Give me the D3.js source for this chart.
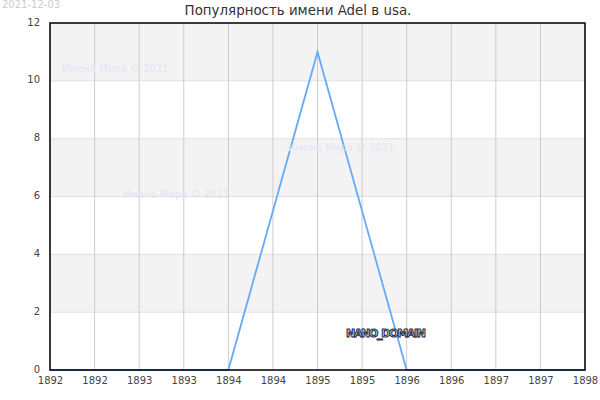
<!DOCTYPE html>
<html>
<head>
<meta charset="utf-8">
<script src="https://cdn.jsdelivr.net/npm/d3@7"></script>
<style>
  body { margin: 0; background: #fff; }
  text { font-family: "DejaVu Sans", sans-serif; }
</style>
</head>
<body>
<div id="chart"></div>
<script>
// Data
//-------------------------------------------------------
var years = [1892, 1893, 1894, 1895, 1896, 1897, 1898];
var counts = [0, 0, 0, 11, 0, 0, 0];
var yTicks = [0, 2, 4, 6, 8, 10, 12];
var xTicks = [1892, 1892.5, 1893, 1893.5, 1894, 1894.5, 1895, 1895.5, 1896, 1896.5, 1897, 1897.5, 1898];
var watermarks = [[62, 72], [288, 151], [123, 198]];

// SVG setup
//-------------------------------------------------------
var svgWidth = 600;
var svgHeight = 400;
var margin = { top: 23, right: 15, bottom: 30, left: 50 };
var chartWidth = svgWidth - margin.left - margin.right;
var chartHeight = svgHeight - margin.top - margin.bottom;

var svg = d3.select("#chart")
    .append("svg")
    .attr("width", svgWidth)
    .attr("height", svgHeight);

var chartGroup = svg.append("g")
    .attr("transform", `translate(${margin.left}, ${margin.top})`);

var x = d3.scaleLinear().domain([1892, 1898]).range([0, chartWidth]);
var y = d3.scaleLinear().domain([0, 12]).range([chartHeight, 0]);

// Alternating bands
for (var i = 0; i < yTicks.length - 1; i++) {
    if (i % 2 === 1) {
        chartGroup.append("rect")
            .attr("x", 0)
            .attr("y", y(yTicks[i + 1]))
            .attr("width", chartWidth)
            .attr("height", y(yTicks[i]) - y(yTicks[i + 1]))
            .attr("fill", "#f3f3f3");
    }
}

// Grid lines
chartGroup.selectAll(".hgrid").data(yTicks).enter()
    .append("line")
    .attr("x1", 0).attr("x2", chartWidth)
    .attr("y1", d => y(d)).attr("y2", d => y(d))
    .attr("stroke", "#e0e0e0");

chartGroup.selectAll(".vgrid").data(xTicks).enter()
    .append("line")
    .attr("x1", d => x(d)).attr("x2", d => x(d))
    .attr("y1", 0).attr("y2", chartHeight)
    .attr("stroke", "#cccccc");

// Watermarks
svg.selectAll(".wm").data(watermarks).enter()
    .append("text")
    .attr("x", d => d[0]).attr("y", d => d[1])
    .attr("font-size", 10)
    .attr("fill", "#e4e4f4")
    .text("Имена Мира © 2021");

// Line
var line = d3.line()
    .x((d, i) => x(years[i]))
    .y(d => y(d));

chartGroup.append("path")
    .datum(counts)
    .attr("d", line)
    .attr("fill", "none")
    .attr("stroke", "#66aaf8")
    .attr("stroke-width", 1.8);

// Frame
chartGroup.append("rect")
    .attr("x", 0).attr("y", 0)
    .attr("width", chartWidth).attr("height", chartHeight)
    .attr("fill", "none")
    .attr("stroke", "#000")
    .attr("stroke-width", 1.5);

// Axes
var bottomAxis = d3.axisBottom(x).tickValues(xTicks).tickSize(0).tickPadding(7)
    .tickFormat(d => Math.floor(d));
var leftAxis = d3.axisLeft(y).tickValues(yTicks).tickSize(0).tickPadding(10);

var xAxis = chartGroup.append("g")
    .attr("transform", `translate(0, ${chartHeight})`)
    .call(bottomAxis);
var yAxis = chartGroup.append("g").call(leftAxis);

[xAxis, yAxis].forEach(function(ax) {
    ax.select(".domain").remove();
    ax.selectAll("text")
        .attr("font-size", 10)
        .attr("font-family", "DejaVu Sans, sans-serif")
        .attr("fill", "#444");
});
yAxis.selectAll("text").attr("dy", "0.2em");

// Title and date
svg.append("text")
    .attr("x", 298).attr("y", 15)
    .attr("text-anchor", "middle")
    .attr("font-size", 13.4)
    .attr("fill", "#333")
    .text("Популярность имени Adel в usa.");

svg.append("text")
    .attr("x", 2).attr("y", 8)
    .attr("font-size", 10)
    .attr("fill", "#cccccc")
    .text("2021-12-03");

// Domain label
svg.append("text")
    .attr("x", 346).attr("y", 337)
    .attr("font-size", 11)
    .attr("font-weight", "bold")
    .attr("fill", "#d0d0e0")
    .attr("stroke", "#2a2a4a")
    .attr("stroke-width", 1)
    .attr("textLength", 80)
    .text("NANO_DOMAIN");
</script>
</body>
</html>
